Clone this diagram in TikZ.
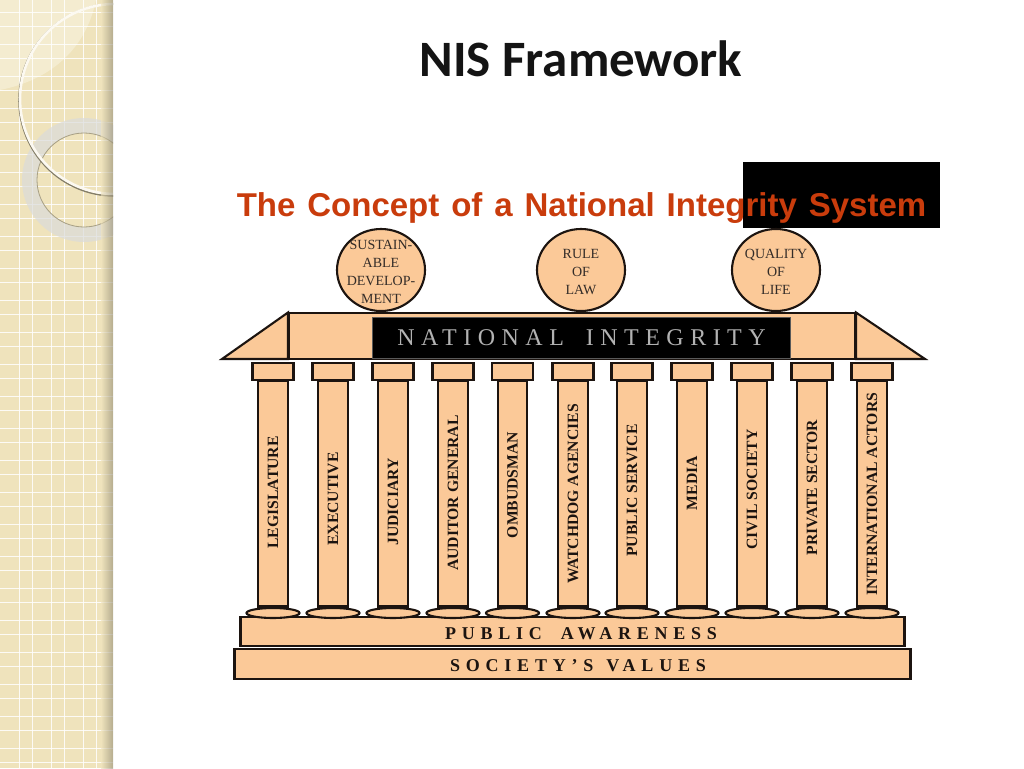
\documentclass[tikz,border=0pt]{standalone}
\usepackage{fontspec}
\usetikzlibrary{shapes.geometric}
\setmainfont{Liberation Serif}
\newfontfamily\titlefont{Carlito}
\newfontfamily\headfont[WordSpace=1.3]{Liberation Sans}
\newfontfamily\spacedfont[LetterSpace=27]{Liberation Serif}
\newfontfamily\widefont[LetterSpace=32]{Liberation Serif}
\definecolor{peach}{HTML}{FBC998}
\definecolor{outl}{HTML}{1C1410}
\definecolor{sidebg}{HTML}{EFE3BC}
\definecolor{sidelt}{HTML}{F4ECD0}
\definecolor{headred}{HTML}{C93C0C}
\tikzset{
  part/.style={draw=outl,fill=peach,line width=2.1pt,line join=miter},
  ball/.style={part,ellipse,inner sep=-14pt,minimum width=88pt,minimum height=82pt,align=center,font=\fontsize{14}{18}\selectfont,text=outl!90},
  shaftlabel/.style={rotate=90,font=\bfseries\fontsize{15.7}{15.7}\selectfont,text=outl,inner sep=0pt},
  band/.style={part,inner sep=0pt,font=\widefont\bfseries\fontsize{18}{18}\selectfont,text=outl},
  gridline/.style={white,line width=.9pt,opacity=.85}
}
\begin{document}
\begin{tikzpicture}[x=1pt,y=-1pt]
\useasboundingbox (0,0) rectangle (1024,768);
\fill[white] (0,0) rectangle (1024,768);
% sidebar
\begin{scope}
\clip (0,0) rectangle (113,768);
\fill[sidebg] (0,0) rectangle (113,768);
\fill[sidelt] (0,0) -- (96,0) .. controls (88,40) and (60,78) .. (0,90) -- cycle;
\foreach \k in {0,...,24}{
  \draw[gridline] (0,{12+32*\k}) -- (113,{12+32*\k});
  \draw[gridline] (0,{26+32*\k}) -- (113,{26+32*\k});
}
\foreach \k in {0,...,3}{
  \draw[gridline] ({19+32*\k},0) -- ({19+32*\k},768);
  \draw[gridline] ({32.5+32*\k},0) -- ({32.5+32*\k},768);
}
\fill[even odd rule,fill=gray!28!white,opacity=.7] (84,180) circle[radius=62] (84,180) circle[radius=47];
\draw[black!30!sidebg,line width=.8pt] (84,180) circle[radius=47];
\draw[black!45!sidebg,line width=1.6pt] (115,100) circle[radius=96];
\draw[white!80!sidebg,line width=2.6pt] (115,99) circle[radius=95];
\shade[left color=sidebg,right color=black!40!sidebg,opacity=.6] (101,0) rectangle (113,768);
\end{scope}
% heading
\node[font=\titlefont\bfseries\fontsize{51}{51}\selectfont,text=black!92,inner sep=0pt,anchor=base] (title) at (581,76) {NIS Framework};
\fill[black] (743,162) rectangle (940,228);
\node[font=\headfont\bfseries\fontsize{33}{33}\selectfont,text=headred,inner sep=0pt,anchor=base] (head) at (581.5,216) {The Concept of a National Integrity System};
% roof
\draw[part] (222,359) -- (288,312.5) -- (288,359) -- cycle;
\draw[part] (925,359) -- (856,312.5) -- (856,359) -- cycle;
\node[part,minimum width=566pt,minimum height=45.5pt,inner sep=0pt] (roof) at (572,336) {};
\node[draw=gray!70!black,fill=black,line width=.8pt,minimum width=418pt,minimum height=41pt,inner sep=0pt,text=black!30,font=\spacedfont\fontsize{24}{24}\selectfont] (nat) at (581,337.5) {\hspace*{1pt}NATIONAL\hspace{22pt}INTEGRITY};
% balls
\node[ball] (b1) at (381,270) {\rule{0pt}{13pt}SUSTAIN-\\ABLE\\DEVELOP-\\MENT};
\node[ball] (b2) at (581,270) {\rule{0pt}{13pt}RULE\\OF\\LAW};
\node[ball] (b3) at (776,270) {\rule{0pt}{13pt}QUALITY\\OF\\LIFE};
% bands
\node[band,minimum width=664pt,minimum height=29.5pt] (pa) at (572.5,631.5) {\rule{0pt}{16pt}\hspace*{17pt}PUBLIC\hspace{19pt}AWARENESS};
\node[band,minimum width=676pt,minimum height=29.5pt] (sv) at (572.5,664) {\rule{0pt}{16pt}\hspace*{11pt}SOCIETY’S\hspace{13pt}VALUES};
% pillars
\foreach \cx/\lab/\ly [count=\i] in {
  273/LEGISLATURE/492.5, 333/EXECUTIVE/499, 393/JUDICIARY/502, 453/AUDITOR GENERAL/493,
  512.5/OMBUDSMAN/485, 573/WATCHDOG AGENCIES/494, 632/PUBLIC SERVICE/490.5, 692/MEDIA/483,
  752/CIVIL SOCIETY/489.5, 812/PRIVATE SECTOR/487.5, 872/INTERNATIONAL ACTORS/494}{
  \node[part,minimum width=41pt,minimum height=17pt,inner sep=0pt] (cap\i) at (\cx,371.5) {};
  \node[part,minimum width=29.5pt,minimum height=226pt,inner sep=0pt] (shaft\i) at (\cx,493.5) {};
  \node[part,ellipse,minimum width=53pt,minimum height=10pt,inner sep=0pt] (foot\i) at (\cx,613) {};
  \node[shaftlabel] (lab\i) at (\cx,\ly) {\lab};
}
\end{tikzpicture}
\end{document}
